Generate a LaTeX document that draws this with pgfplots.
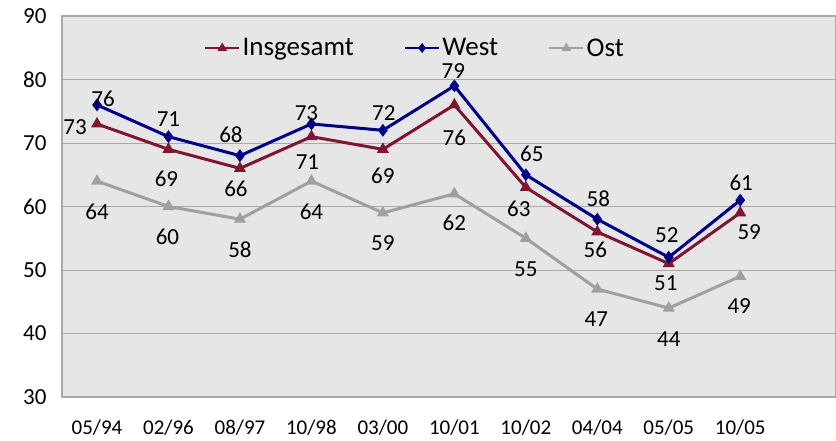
\documentclass[border=0pt]{standalone}
\usepackage{pgfplots}
\usepackage{pgfplotstable}
\usepackage{fontspec}
\setmainfont{Carlito}
\pgfplotsset{compat=1.18}
\definecolor{cRed}{HTML}{7F1530}
\definecolor{cBlue}{HTML}{000088}
\definecolor{cGray}{HTML}{A0A0A0}
\definecolor{cBg}{HTML}{E6E6E6}
\definecolor{cGrid}{HTML}{A8A8A8}
\pgfplotstableread{
x y dx dy
0 73 -22 -3
1 69 -2 -29
2 66 -4 -20
3 71 -4 -25
4 69 0 -26
5 76 0 -33
6 63 -7 -21
7 56 -2 -18
8 51 -3 -20
9 59 9 -19
}\insg
\pgfplotstableread{
x y dx dy
0 76 6 6
1 71 0 18
2 68 -9 21
3 73 -5 11
4 72 1 17
5 79 -1 15
6 65 6 21
7 58 1 20
8 52 -2 22
9 61 1 17
}\west
\pgfplotstableread{
x y dx dy
0 64 0 -31
1 60 -1 -30
2 58 0 -31
3 64 0 -31
4 59 0 -30
5 62 0 -29
6 55 0 -31
7 47 -1 -30
8 44 0 -31
9 49 -1 -30
}\ost
\begin{document}
\begin{tikzpicture}
\useasboundingbox (0pt,0pt) rectangle (836pt,440pt);
\begin{axis}[at={(62pt,43pt)}, anchor=south west, scale only axis,
  width=774pt, height=381pt,
  xmin=-0.49, xmax=10.34, ymin=30, ymax=90,
  ytick={30,40,...,90}, xtick={0,...,9},
  xticklabels={05/94,02/96,08/97,10/98,03/00,10/01,10/02,04/04,05/05,10/05},
  axis background/.style={fill=cBg},
  ymajorgrids, grid style={cGrid, line width=1pt},
  axis line style={cGrid, line width=1.2pt},
  major tick length=0pt,
  /pgf/number format/assume math mode=true,
  yticklabel style={font=\fontsize{23}{26}\selectfont, xshift=-12pt},
  xticklabel style={font=\fontsize{21}{24}\selectfont, yshift=-19pt},
  clip=false,
  legend columns=3,
  legend style={at={(0.456,0.916)}, anchor=center, draw=none, fill=none,
    font=\fontsize{27}{31}\selectfont,
    /tikz/every even column/.append style={column sep=48pt}},
  legend image code/.code={\draw[mark repeat=2,mark phase=2,#1, line width=2.5pt, mark size=3pt] plot coordinates {(0pt,0pt)(17pt,0pt)(34pt,0pt)};},
  every node near coord/.append style={anchor=center, text=black, font=\fontsize{23}{26}\selectfont},
]
\addplot[cRed, line width=3pt, mark=triangle*, mark size=4pt, mark options={solid},
  nodes near coords, point meta=\thisrow{y},
  visualization depends on={\thisrow{dx}\as\dx},
  visualization depends on={\thisrow{dy}\as\dy},
  nodes near coords style={xshift=\dx pt, yshift=\dy pt},
  nodes near coords={\pgfmathprintnumber[assume math mode=true]{\pgfplotspointmeta}}] table {\insg};
\addlegendentry{Insgesamt}
\addplot[cBlue, line width=3pt, mark=diamond*, mark size=4pt, mark options={solid},
  nodes near coords, point meta=\thisrow{y},
  visualization depends on={\thisrow{dx}\as\dx},
  visualization depends on={\thisrow{dy}\as\dy},
  nodes near coords style={xshift=\dx pt, yshift=\dy pt},
  nodes near coords={\pgfmathprintnumber[assume math mode=true]{\pgfplotspointmeta}}] table {\west};
\addlegendentry{West}
\addplot[cGray, line width=3pt, mark=triangle*, mark size=4pt, mark options={solid},
  nodes near coords, point meta=\thisrow{y},
  visualization depends on={\thisrow{dx}\as\dx},
  visualization depends on={\thisrow{dy}\as\dy},
  nodes near coords style={xshift=\dx pt, yshift=\dy pt},
  nodes near coords={\pgfmathprintnumber[assume math mode=true]{\pgfplotspointmeta}}] table {\ost};
\addlegendentry{Ost}
\end{axis}
\end{tikzpicture}
\end{document}
